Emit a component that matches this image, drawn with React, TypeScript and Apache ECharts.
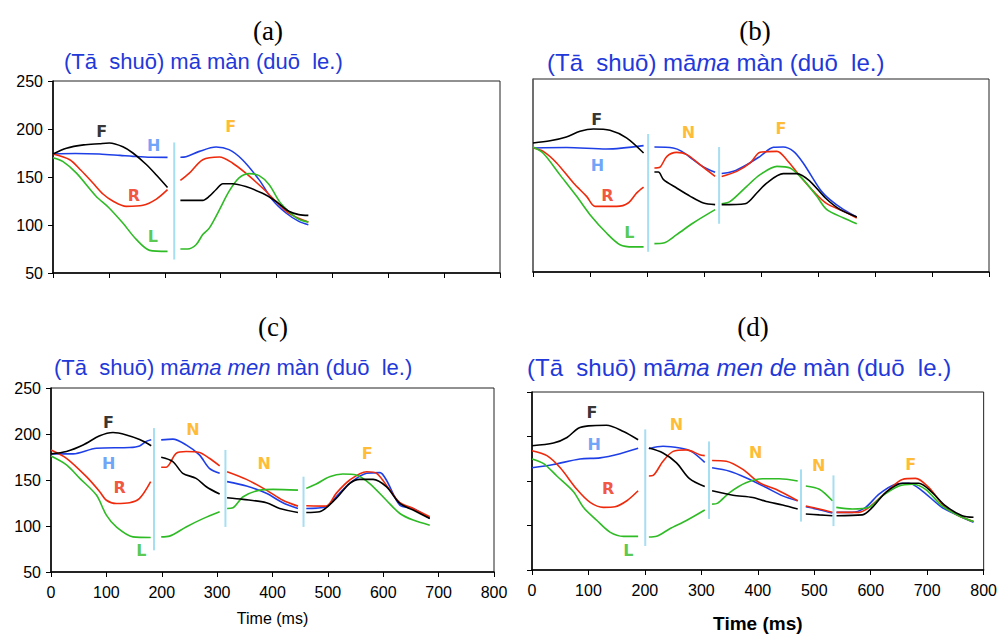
import React, { useEffect, useRef } from "react";
import * as echarts from "echarts";

type Pt = [number, number];

// ---------- Panel (a): (Tā shuō) mā màn (duō le.) ----------
const aBlack: Pt[][] = [
  [[0, 174], [24, 180], [55, 183.5], [83, 184.7], [101, 185.4], [125, 181.5], [143, 175], [167, 163], [185, 152], [205, 139]],
  [[228, 125.7], [268, 125.7], [280, 130], [292, 137], [304, 143], [321, 143], [345, 140], [375, 133], [399, 124.6], [423, 114], [440, 110.8], [457, 110]],
];
const aBlue: Pt[][] = [
  [[0, 174], [40, 174.5], [83, 174], [120, 172.5], [143, 171.5], [175, 170.5], [205, 170.4]],
  [[228, 170.5], [238, 171], [262, 176.7], [292, 181.2], [315, 178.5], [339, 168], [369, 147], [393, 126], [417, 112.5], [440, 103.8], [457, 100.3]],
];
const aRed: Pt[][] = [
  [[0, 174], [30, 168], [50, 157], [71, 144], [90, 132], [107, 125], [131, 119.4], [161, 120.5], [185, 127], [205, 136.8]],
  [[228, 146.5], [244, 154], [268, 168], [298, 170.8], [321, 164.6], [345, 154], [375, 138.5], [399, 124.6], [423, 111.8], [457, 103]],
];
const aGreen: Pt[][] = [
  [[0, 170], [18, 166], [42, 154], [77, 130], [100, 118], [125, 102], [149, 85], [173, 73.6], [205, 72.5]],
  [[228, 75], [241, 75], [256, 79.4], [268, 90], [280, 97], [298, 116], [315, 135], [333, 149], [351, 153.5], [369, 151.4], [387, 142], [405, 124.6], [423, 113.5], [440, 106], [457, 103]],
];
const aBounds: [number, number, number][] = [[217, 64, 186]];
const aLabels: [string, string, number, number][] = [
  ["F", "k", 87, 197], ["H", "b", 180, 182.6], ["R", "r", 145, 131], ["L", "g", 178.6, 88.4], ["F", "o", 318, 202.8],
];

// ---------- Panel (b): (Tā shuō) māma màn (duō le.) ----------
const bBlack: Pt[][] = [
  [[0, 183.7], [30, 186], [58.5, 190], [82.5, 195.8], [106, 198.2], [135, 196.8], [164, 189], [194, 173.3]],
  [[213, 153.6], [220, 153.6], [229, 145.7], [252, 137], [276, 128.4], [299, 121.5], [319.5, 119.8]],
  [[331, 119.8], [372, 120.8], [392.6, 131.9], [410, 142.2], [439, 151.9], [463, 151.9], [486, 144], [513, 126.7], [539, 114.6], [568, 107]],
];
const bBlue: Pt[][] = [
  [[0, 178.5], [59, 179], [129, 177.5], [194, 181]],
  [[213, 179.5], [246, 178.5], [261, 175], [281, 166.4], [299, 158.8], [319.5, 153.3]],
  [[331, 152], [351.7, 154.3], [375, 161.2], [398.5, 169.9], [422, 179.2], [439, 179.5], [457, 175], [474, 163], [504, 135.3], [521, 125], [545, 114.6], [568, 107]],
];
const bRed: Pt[][] = [
  [[0, 178.5], [18, 175], [41.5, 163], [71, 142.2], [94, 128.4], [109, 118], [147, 118], [167, 121.5], [182, 132], [194, 138]],
  [[213, 157.8], [223, 158.8], [235, 169.9], [252, 174], [270, 171.6], [293, 161.2], [319.5, 149.1]],
  [[331, 149], [357.5, 154.3], [381, 163], [398.5, 174], [428, 175], [445, 166.4], [469, 149], [492, 133.6], [515.5, 120.8], [545, 112.9], [568, 106]],
];
const bGreen: Pt[][] = [
  [[0, 179.5], [18, 173], [47, 150.9], [76.6, 128.4], [100, 109.4], [129, 90.4], [152.6, 78.3], [176, 76], [194, 76]],
  [[213, 79.4], [229, 80], [252, 88.7], [281, 100.8], [319.5, 114.6]],
  [[331, 120.8], [346, 123.2], [375, 138.8], [398.5, 150.9], [428, 159.5], [451, 157.8], [474, 145.7], [498, 128.4], [515.5, 114.6], [545, 106], [568, 100]],
];
const bBounds: [number, number, number][] = [[202, 71, 193], [326.5, 100, 179.5]];
const bLabels: [string, string, number, number][] = [
  ["F", "k", 112, 208.5], ["H", "b", 113, 160], ["R", "r", 130.5, 129], ["L", "g", 169, 91], ["N", "o", 272.7, 194.7], ["F", "o", 435, 199],
];

// ---------- Panel (c): (Tā shuō) māma men màn (duō le.) ----------
const cBlack: Pt[][] = [
  [[0, 178.4], [28, 181], [58, 188], [88, 198], [112, 201.6], [136, 199], [160, 194], [181, 187.3]],
  [[199, 174.7], [220, 170], [238, 157.3], [262, 151.8], [280.5, 142.7], [304.6, 134.7]],
  [[318, 130.7], [347, 128.9], [389, 125.3], [413, 119], [446, 114.7]],
  [[461, 114.7], [485, 115.5], [515, 130], [539.5, 146.4], [557.6, 150.7], [581.6, 150.7], [605.6, 142.7], [630, 124.5], [654, 117.3], [684, 108.2]],
];
const cBlue: Pt[][] = [
  [[0, 178.4], [40, 178.4], [82, 184.5], [142, 185.3], [160, 187], [172, 192], [181, 193.8]],
  [[199, 193.6], [220, 194.4], [244, 188.2], [268, 177.3], [286, 162.7], [304.6, 157.3]],
  [[318, 148.2], [353, 143.5], [389, 135.5], [418.7, 125.3], [446, 119]],
  [[461, 119], [497, 120.9], [515, 131.8], [539.5, 146.4], [570, 157.3], [594, 158], [605.6, 150], [630, 122.7], [654, 119], [684, 108.2]],
];
const cRed: Pt[][] = [
  [[0, 182.7], [28, 173.6], [64, 153.6], [88, 137.3], [100, 128], [118, 124.5], [142, 125.3], [160, 130], [180, 148.2]],
  [[199, 163.8], [208, 163.8], [226, 179], [244, 180.9], [268, 179.8], [286, 173.6], [304.6, 165.3]],
  [[318, 159], [353, 150.7], [389, 139], [418.7, 128], [446, 121.6]],
  [[461, 122], [497, 121.6], [515, 135.5], [539.5, 150], [570, 159], [588, 157.3], [612, 139], [630, 125.5], [654, 119], [684, 110]],
];
const cGreen: Pt[][] = [
  [[0, 176], [28, 166.4], [52, 151.8], [82, 133.6], [100, 111.8], [118, 99], [148, 88.2], [180, 87.5]],
  [[199, 88.2], [214, 89], [244, 99], [274.5, 108], [304.6, 115.5]],
  [[318, 119], [328.7, 119.8], [347, 131.8], [377, 139], [401, 139.8], [446, 139]],
  [[461, 140.9], [479, 145.6], [503, 153.6], [527, 156.5], [551, 155.5], [575, 146.4], [605.6, 128], [630, 113.6], [654, 106.4], [684, 100.9]],
];
const cBounds: [number, number, number][] = [[186, 73.6, 206.4], [315, 99, 182.7], [456, 99, 153.6]];
const cLabels: [string, string, number, number][] = [
  ["F", "k", 104, 213], ["H", "b", 104, 168], ["R", "r", 124, 142], ["L", "g", 163, 73], ["N", "o", 256.5, 205], ["N", "o", 385, 168], ["F", "o", 571, 178.4],
];

// ---------- Panel (d): (Tā shuō) māma men de màn (duō le.) ----------
const dBlack: Pt[][] = [
  [[0, 189.6], [38, 192.6], [62, 198.9], [82, 209.3], [100, 211.9], [132, 212.6], [162, 205.6], [188, 196.3]],
  [[207, 187], [232, 181.5], [256, 170.4], [279, 152.6], [306, 143.7]],
  [[319, 139], [356, 134], [391, 131.5], [415, 127], [444, 123], [470.6, 118.5]],
  [[485, 113], [509, 111.9], [532, 111]],
  [[539.4, 111], [585, 111.9], [603, 120.4], [626.5, 137], [656, 147.4], [685, 147.4], [709, 137], [732, 122.2], [762, 111], [782, 109.3]],
];
const dBlue: Pt[][] = [
  [[0, 164.8], [38, 168.5], [85, 174.8], [120.6, 176], [156, 180.7], [188, 186.7]],
  [[207, 186.3], [232, 189], [262, 187], [282, 183.3], [306, 171]],
  [[319, 164.8], [350, 161], [379, 153.7], [415, 142.6], [444, 133.3], [470.6, 127.8]],
  [[485, 121], [509, 117.8], [532, 114]],
  [[539.4, 114.8], [567.6, 114.8], [591, 120.4], [614.7, 135.2], [644, 146.3], [667.6, 147.4], [691, 139], [726, 120.4], [756, 111], [782, 103.7]],
];
const dRed: Pt[][] = [
  [[0, 184], [26.5, 178.5], [50, 164.8], [79.4, 140.7], [103, 126], [126.5, 120.4], [147, 121], [168, 127.8], [188, 139]],
  [[207, 155.6], [214.7, 156.3], [232, 172.2], [250, 183.3], [273.5, 185], [297, 179.6], [306, 178.5]],
  [[319, 173], [344, 172.2], [373.5, 163], [403, 148], [432, 140.7], [470.6, 127.8]],
  [[485, 122], [509, 118.5], [532, 114.8]],
  [[539.4, 114.8], [579, 114.8], [597, 120.4], [626.5, 137], [656, 151.8], [679.4, 153], [703, 142.6], [732, 120.4], [756, 111], [782, 104.4]],
];
const dGreen: Pt[][] = [
  [[0, 174.8], [20.6, 169.6], [44, 155.6], [73.5, 138], [91, 120.4], [115, 105.6], [138, 92.6], [162, 87.8], [188, 87.8]],
  [[207, 87], [220.6, 87.8], [244, 96.3], [273.5, 105.6], [306, 117.4]],
  [[319, 124], [329, 125.2], [350, 137], [379, 148], [409, 152.6], [438, 152.6], [470.6, 150]],
  [[485, 144.4], [509, 140.7], [532, 127.8]],
  [[539, 120.4], [567.6, 118.5], [597, 120.4], [620.6, 133.3], [650, 144.4], [673.5, 146.3], [697, 140.7], [726, 122.2], [756, 111], [782, 104.4]],
];
const dBounds: [number, number, number][] = [[200.6, 77, 208], [313.5, 107.4, 194.4], [476.5, 104.4, 163], [534, 99.3, 156.3]];
const dLabels: [string, string, number, number][] = [
  ["F", "k", 106, 226.7], ["H", "b", 110, 190.7], ["R", "r", 135, 141.5], ["L", "g", 170.6, 72], ["N", "o", 256, 213], ["N", "o", 396, 182.2], ["N", "o", 507.6, 167.4], ["F", "o", 670.6, 168.5],
];

const yTicks = [50, 100, 150, 200, 250];
const xTicks = [0, 100, 200, 300, 400, 500, 600, 700, 800];

const panelTitles = ["(a)", "(b)", "(c)", "(d)"];
const panelSentences = [
  "(Tā  shuō) mā màn (duō  le.)",
  "(Tā  shuō) mā{i|ma} màn (duō  le.)",
  "(Tā  shuō) mā{i|ma men} màn (duō  le.)",
  "(Tā  shuō) mā{i|ma men de} màn (duō  le.)",
];

const LINE_COLORS = { k: "#000000", b: "#1f3fe6", r: "#ee2a0c", g: "#2fbb25" };
const LABEL_COLORS: Record<string, string> = { k: "#000000", b: "#4a8cf5", r: "#ee2a0c", g: "#2fbb25", o: "#ffab00" };
const BOUND_COLOR = "#a6def2";

const panels = [
  { k: aBlack, b: aBlue, r: aRed, g: aGreen, bounds: aBounds, labels: aLabels },
  { k: bBlack, b: bBlue, r: bRed, g: bGreen, bounds: bBounds, labels: bLabels },
  { k: cBlack, b: cBlue, r: cRed, g: cGreen, bounds: cBounds, labels: cLabels },
  { k: dBlack, b: dBlue, r: dRed, g: dGreen, bounds: dBounds, labels: dLabels },
];

const GRIDS = [
  { left: 53, top: 81, width: 447, height: 192 },
  { left: 533, top: 79, width: 456, height: 193 },
  { left: 51, top: 388, width: 443, height: 184 },
  { left: 532, top: 392, width: 453, height: 180 },
];
const TITLE_POS = [
  { x: 268, y: 31 }, { x: 755, y: 31 }, { x: 273, y: 327 }, { x: 753, y: 327 },
];
const SENT_POS = [
  { x: 64, y: 61, size: 22 }, { x: 547, y: 62, size: 24 }, { x: 54, y: 367, size: 22 }, { x: 527, y: 367, size: 24 },
];

function buildOption() {
  const series: any[] = [];
  panels.forEach((p, gi) => {
    (["b", "r", "g", "k"] as const).forEach((tone) => {
      (p as any)[tone].forEach((seg: Pt[]) => {
        series.push({
          type: "line",
          xAxisIndex: gi,
          yAxisIndex: gi,
          data: seg,
          symbol: "none",
          smooth: 0.3,
          silent: true,
          lineStyle: { color: (LINE_COLORS as any)[tone], width: 1.6 },
          z: 3,
        });
      });
    });
    p.bounds.forEach(([x, y0, y1]) => {
      series.push({
        type: "line",
        xAxisIndex: gi,
        yAxisIndex: gi,
        data: [[x, y0], [x, y1]],
        symbol: "none",
        silent: true,
        lineStyle: { color: BOUND_COLOR, width: 2 },
        z: 2,
      });
    });
    series.push({
      type: "scatter",
      xAxisIndex: gi,
      yAxisIndex: gi,
      symbolSize: 0.1,
      itemStyle: { color: "transparent" },
      silent: true,
      z: 5,
      data: p.labels.map(([t, c, x, y]) => ({
        value: [x, y],
        label: {
          show: true,
          position: "inside",
          formatter: t,
          color: LABEL_COLORS[c],
          fontWeight: "bold",
          fontSize: 16,
          fontFamily: "DejaVu Sans",
        },
      })),
    });
  });

  const xAxis = GRIDS.map((_, gi) => ({
    type: "value",
    gridIndex: gi,
    min: xTicks[0],
    max: xTicks[xTicks.length - 1],
    interval: 100,
    axisLine: { show: true, onZero: false, lineStyle: { color: "#000", width: 1.5 } },
    axisTick: { show: true, length: 5, lineStyle: { color: "#000", width: 1 } },
    splitLine: { show: false },
    axisLabel: {
      show: gi >= 2,
      color: "#000",
      fontSize: 16,
      fontFamily: "Liberation Sans",
      margin: 12,
    },
    name: gi >= 2 ? "Time (ms)" : "",
    nameLocation: "middle",
    nameGap: gi === 3 ? 44 : 38,
    nameTextStyle: {
      color: "#000",
      fontSize: gi === 3 ? 19 : 16,
      fontWeight: gi === 3 ? "bold" : "normal",
      fontFamily: "Liberation Sans",
    },
  }));
  const yAxis = GRIDS.map((_, gi) => ({
    type: "value",
    gridIndex: gi,
    min: yTicks[0],
    max: yTicks[yTicks.length - 1],
    interval: 50,
    axisLine: { show: true, onZero: false, lineStyle: { color: gi === 1 ? "#666" : "#000", width: 1.5 } },
    axisTick: { show: gi !== 1, length: 5, lineStyle: { color: "#000" } },
    splitLine: { show: false },
    axisLabel: {
      show: gi === 0 || gi === 2,
      color: "#000",
      fontSize: 16,
      fontFamily: "Liberation Sans",
      margin: 10,
    },
  }));

  const graphic: any[] = [];
  panelTitles.forEach((t, i) => {
    graphic.push({
      type: "text",
      x: TITLE_POS[i].x,
      y: TITLE_POS[i].y,
      style: {
        text: t,
        fill: "#000",
        fontSize: 27,
        fontFamily: "Liberation Serif",
        align: "center",
        verticalAlign: "middle",
      },
    });
  });
  panelSentences.forEach((t, i) => {
    const size = SENT_POS[i].size;
    graphic.push({
      type: "text",
      x: SENT_POS[i].x,
      y: SENT_POS[i].y,
      style: {
        text: t,
        fill: "#2238d8",
        fontSize: size,
        fontFamily: "Liberation Sans",
        align: "left",
        verticalAlign: "middle",
        rich: {
          i: {
            fontStyle: "italic",
            fontSize: size,
            fontFamily: "Liberation Sans",
            fill: "#2238d8",
          },
        },
      },
    });
  });

  return {
    animation: false,
    backgroundColor: "#fff",
    grid: GRIDS.map((g) => ({ ...g, show: true, borderColor: "#222", borderWidth: 1, backgroundColor: "transparent" })),
    xAxis,
    yAxis,
    series,
    graphic,
  };
}

export default function App() {
  const ref = useRef<HTMLDivElement>(null);
  useEffect(() => {
    const chart = echarts.init(ref.current!, undefined, { renderer: "svg" });
    chart.setOption(buildOption() as any);
    return () => chart.dispose();
  }, []);
  return (
    <div
      ref={ref}
      style={{ position: "fixed", left: 0, top: 0, width: 1000, height: 634 }}
    />
  );
}
